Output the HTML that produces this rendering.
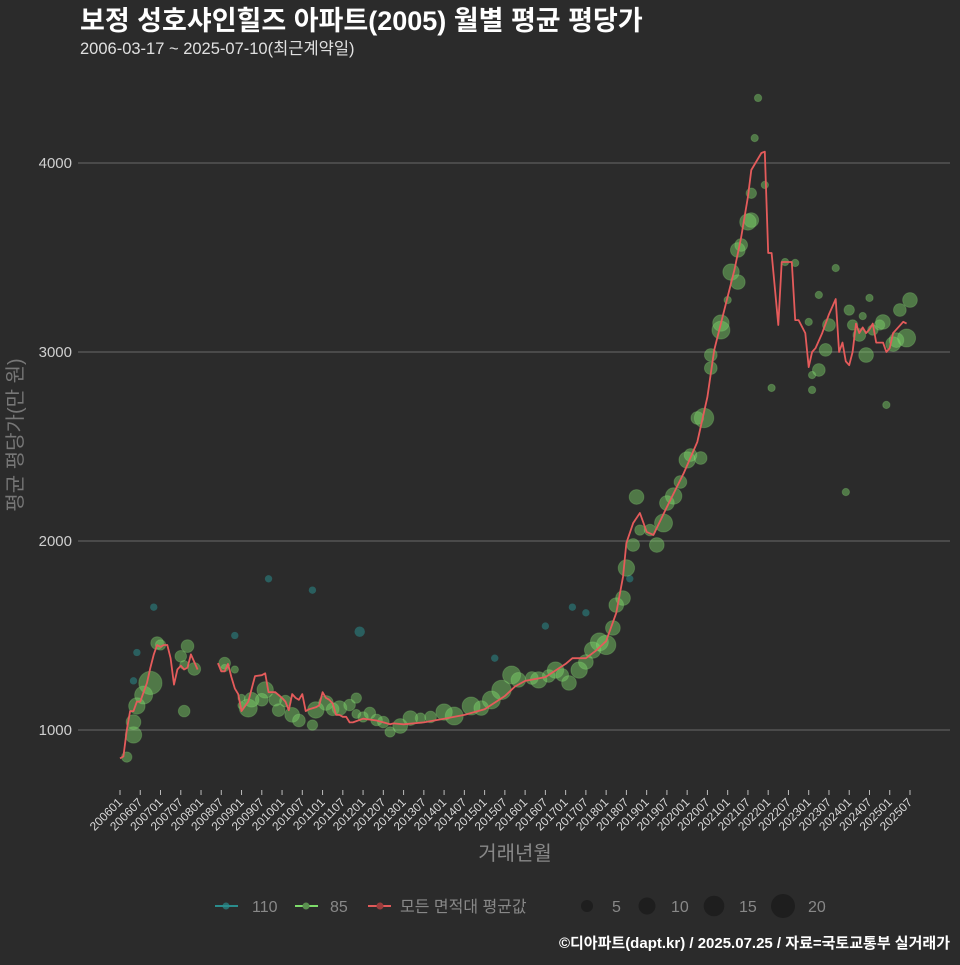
<!DOCTYPE html>
<html><head><meta charset="utf-8">
<style>
html,body{margin:0;padding:0;background:#2b2b2b;}
body{width:960px;height:960px;overflow:hidden;font-family:"Liberation Sans","Noto Sans CJK KR",sans-serif;}
svg text{font-family:"Liberation Sans","Noto Sans CJK KR",sans-serif;}
</style></head>
<body>
<svg id="chart" width="960" height="960">
<rect width="960" height="960" fill="#2b2b2b"/>
<text x="80" y="30" fill="#ffffff" font-size="27" font-weight="bold">보정 성호샤인힐즈 아파트(2005) 월별 평균 평당가</text>
<text x="80" y="54" fill="#e0e0e0" font-size="16.5">2006-03-17 ~ 2025-07-10(최근계약일)</text>
<text transform="translate(22,435) rotate(-90)" text-anchor="middle" fill="#777" font-size="20">평균 평당가(만 원)</text>
<text x="515" y="860" text-anchor="middle" fill="#888" font-size="20">거래년월</text>
<g id="grid"></g><g id="yticks"></g><g id="xticks"></g>
<g id="pts110"></g><g id="pts85"></g><g id="line"></g>
<g>
<line x1="215" y1="906" x2="238" y2="906" stroke="#2a8c8c" stroke-width="2"/>
<circle cx="226" cy="906" r="3.5" fill="#2a8c8c" opacity="0.7"/>
<text x="252" y="912" fill="#888" font-size="16">110</text>
<line x1="295" y1="906" x2="318" y2="906" stroke="#7ddc6a" stroke-width="2"/>
<circle cx="306" cy="906" r="3.5" fill="#5a8f4f"/>
<text x="330" y="912" fill="#888" font-size="16">85</text>
<line x1="368" y1="906" x2="391" y2="906" stroke="#e05a5a" stroke-width="2"/>
<circle cx="380" cy="906" r="3.5" fill="#9a3c3c"/>
<text x="400" y="912" fill="#888" font-size="16">모든 면적대 평균값</text>
<circle cx="587" cy="906" r="6" fill="#1e1e1e"/>
<text x="612" y="912" fill="#888" font-size="16">5</text>
<circle cx="647" cy="906" r="8.5" fill="#1e1e1e"/>
<text x="671" y="912" fill="#888" font-size="16">10</text>
<circle cx="714" cy="906" r="10.3" fill="#1e1e1e"/>
<text x="739" y="912" fill="#888" font-size="16">15</text>
<circle cx="783" cy="906" r="12" fill="#1e1e1e"/>
<text x="808" y="912" fill="#888" font-size="16">20</text>
</g>
<text x="950" y="948" text-anchor="end" fill="#ffffff" font-size="15" font-weight="bold">©디아파트(dapt.kr) / 2025.07.25 / 자료=국토교통부 실거래가</text>
</svg>
<script>
const yTicks=[1000,2000,3000,4000];
const xTickLabels=[];for(let y=2006;y<=2025;y++){xTickLabels.push(y+"01");xTickLabels.push(y+"07");}
// average line: month index from 2006-01, value (null = gap)
const lineMonths=[0,1,2,3,4,5,6,7,8,9,10,11,12,13,14,15,16,17,18,19,20,21,22,23,24,29,30,31,32,33,34,35,36,38,40,42,43,44,46,48,49,50,51,52,53,54,55,56,58,59,60,61,62,63,64,65,66,67,68,69,72,76,80,81,84,90,96,102,108,114,117,120,126,132,134,138,141,144,147,149,150,152,154,156,158,162,167,171,174,176,179,182,184,186,187,190,191,192,193,195,196,199,200,201,203,204,205,206,208,210,212,213,214,215,216,217,218,219,220,221,222,223,224,226,227,228,229,230,232,233];
const lineValues=[850,860,1000,1100,1100,1150,1150,1200,1250,1330,1400,1450,1440,1450,1450,1380,1240,1320,1340,1320,1330,1400,1360,1320,null,1354,1310,1310,1350,1280,1220,1190,1100,1150,1285,1290,1300,1200,1200,1170,1150,1105,1190,1170,1160,1190,1100,1110,1120,1130,1200,1170,1160,1140,1080,1080,1070,1070,1040,1040,1060,1050,1030,1035,1030,1040,1060,1080,1110,1180,1230,1260,1280,1350,1380,1380,1420,1470,1620,1810,1990,2095,2148,2048,2032,2180,2360,2524,2762,3010,3222,3434,3608,3820,3963,4053,4060,3524,3524,3143,3476,3476,3169,3169,3100,2920,3000,3020,3100,3200,3280,3000,3050,2950,2930,3000,3150,3100,3130,3100,3120,3150,3050,3050,3000,3020,3100,3120,3160,3150];
const m85=[2,4,4,5,7,9,11,12,19,18,20,19,22,31,31,34,36,36,38,39,43,42,46,47,49,51,53,57,58,61,63,65,68,70,70,72,74,76,78,80,83,86,89,92,96,99,104,107,110,113,116,118,122,124,127,129,131,133,136,138,140,142,144,146,147,149,150,152,153,154,157,159,161,162,164,166,168,169,172,171,173,175,175,178,178,180,181,183,183,184,186,187,187,188,189,191,193,197,200,204,205,205,207,207,209,210,212,215,216,217,219,220,221,222,223,225,226,227,229,230,231,233,234];
const v85=[857,974,1042,1127,1185,1249,1460,1450,1100,1390,1444,1344,1323,1354,1328,1320,1170,1130,1116,1160,1212,1160,1160,1105,1153,1080,1050,1026,1106,1143,1110,1116,1132,1169,1085,1069,1090,1053,1042,990,1021,1063,1063,1069,1095,1074,1127,1116,1159,1212,1291,1265,1275,1265,1286,1317,1291,1249,1317,1360,1423,1466,1450,1540,1661,1698,1857,1979,2233,2058,2058,1979,2095,2201,2238,2312,2429,2455,2439,2651,2651,2915,2984,3116,3153,3275,3423,3370,3540,3566,3688,3698,3840,4132,4344,3884,2810,3476,3471,3159,2878,2799,2905,3302,3011,3143,3444,2259,3222,3143,3090,3190,2984,3286,3116,3143,3159,2720,3042,3063,3222,3074,3275];
const s85=[4,10,8,10,12,20,6,4,5,5,6,3,6,5,2,2,2,2,12,8,10,6,6,6,5,8,6,4,10,8,6,8,5,4,3,4,5,5,5,4,8,8,4,5,10,12,12,8,12,14,12,8,6,10,6,10,6,8,10,8,10,12,14,8,8,8,10,6,8,4,5,8,12,8,10,6,10,6,6,6,14,6,6,12,10,2,10,8,8,6,10,8,4,2,2,2,2,2,2,2,2,2,6,2,6,6,2,2,4,4,6,2,8,2,4,4,8,2,8,8,6,12,8];
const m110=[4,5,10,34,44,57,71,111,126,134,138,151];
const v110=[1260,1410,1650,1500,1800,1740,1520,1380,1550,1650,1620,1800];
const s110=[2,2,2,2,2,2,4,2,2,2,2,2];

const NS="http://www.w3.org/2000/svg";
const X0=120,PXM=3.376;
const xs=m=>X0+m*PXM;
const ys=v=>730-(v-1000)*0.189;
const rs=n=>2.6*Math.sqrt(n);
function mk(tag,attrs,parent){const e=document.createElementNS(NS,tag);for(const k in attrs)e.setAttribute(k,attrs[k]);parent.appendChild(e);return e;}
const grid=document.getElementById('grid'),yt=document.getElementById('yticks'),xt=document.getElementById('xticks');
yTicks.forEach(v=>{
  const l=mk('line',{x1:78,x2:950,y1:ys(v),y2:ys(v),stroke:'#5e5e5e','stroke-width':1.2},grid);
  
  
  const t=mk('text',{x:72,y:ys(v)+5,'text-anchor':'end',fill:'#cfcfcf','font-size':15},yt);
  t.textContent=v;
  
  
});
xTickLabels.forEach((lab,i)=>{
  const m=(parseInt(lab.slice(0,4))-2006)*12+parseInt(lab.slice(4))-1;
  const x=xs(m);
  const tk=mk('line',{x1:x,x2:x,y1:790,y2:795,stroke:'#bbb'},xt);
  
  
  const t=mk('text',{x:x+3,y:803,'text-anchor':'end',fill:'#d8d8d8','font-size':12,transform:`rotate(-45 ${x+3} 803)`},xt);
  t.textContent=lab;
  
  
});
const g110=document.getElementById('pts110');
m110.forEach((m,i)=>{
  const c=mk('circle',{cx:xs(m),cy:ys(v110[i]),r:rs(s110[i]),fill:'#2a8a8a','fill-opacity':0.55},g110);
  
  
});
const g85=document.getElementById('pts85');
m85.forEach((m,i)=>{
  const c=mk('circle',{cx:xs(m),cy:ys(v85[i]),r:rs(s85[i]),fill:'#7fd86a','fill-opacity':0.45,stroke:'#8fe07a','stroke-opacity':0.25},g85);
  
  
});
let d='',pen=false;
lineMonths.forEach((m,i)=>{
  const v=lineValues[i];
  if(v===null){pen=false;return;}
  d+=(pen?'L':'M')+xs(m).toFixed(1)+','+ys(v).toFixed(1);pen=true;
});
const p=mk('path',{d:d,fill:'none',stroke:'#e55b5b','stroke-width':1.8,'stroke-linejoin':'round'},document.getElementById('line'));


</script>
</body></html>
